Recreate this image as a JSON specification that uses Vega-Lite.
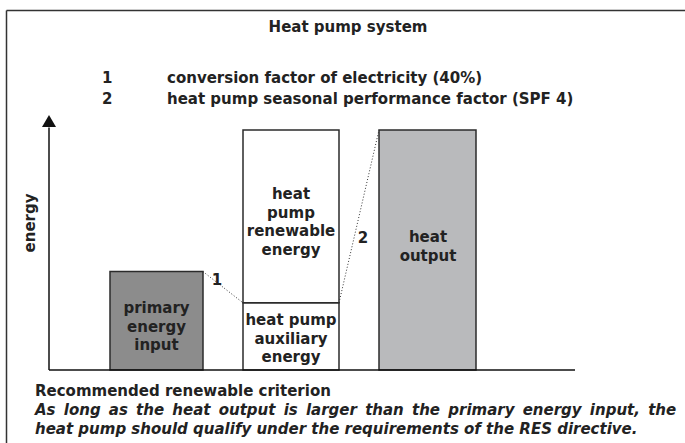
{
  "$schema": "https://vega.github.io/schema/vega-lite/v6.json",
  "width": 685,
  "height": 443,
  "autosize": {"type": "none"},
  "padding": 0,
  "background": "white",
  "config": {
    "view": {"stroke": null},
    "text": {"font": "DejaVu Sans", "fontWeight": "bold", "fontSize": 15, "color": "#222222"}
  },
  "datasets": {
    "bars": [
      {"item": "primary energy input", "part": "primary", "x": 6.1, "x2": 15.4, "y": 4.1, "y2": 0},
      {"item": "heat pump auxiliary energy", "part": "auxiliary", "x": 19.4, "x2": 29.0, "y": 2.8, "y2": 0},
      {"item": "heat pump renewable energy", "part": "renewable", "x": 19.4, "x2": 29.0, "y": 10.0, "y2": 2.8},
      {"item": "heat output", "part": "output", "x": 33.0, "x2": 42.7, "y": 10.0, "y2": 0}
    ],
    "links": [
      {"step": "1", "x": 15.4, "y": 4.1, "x2": 19.4, "y2": 2.8},
      {"step": "2", "x": 29.0, "y": 2.8, "x2": 33.0, "y2": 10.0}
    ],
    "axes": [
      {"axis": "x", "x": 0, "y": 0, "x2": 52.6, "y2": 0},
      {"axis": "y", "x": 0, "y": 0, "x2": 0, "y2": 10.1}
    ],
    "arrow": [{"x": 0, "y": 10.375}],
    "frame": [
      {"side": "top", "x": -4.25, "y": 14.979, "x2": 63.6, "y2": 14.979},
      {"side": "left", "x": -4.25, "y": 14.979, "x2": -4.25, "y2": -3.0417}
    ],
    "boxLabels": [
      {"x": 24.2, "y": 7.125, "label": "heat\npump\nrenewable\nenergy"},
      {"x": 24.2, "y": 1.875, "label": "heat pump\nauxiliary\nenergy"},
      {"x": 37.9, "y": 5.333, "label": "heat\noutput"},
      {"x": 10.75, "y": 2.375, "label": "primary\nenergy\ninput"}
    ],
    "stepLabels": [
      {"x": 16.8, "y": 3.54, "label": "1"},
      {"x": 31.4, "y": 5.29, "label": "2"}
    ],
    "notes": [
      {"x": 5.3, "y": 11.96, "label": "1"},
      {"x": 11.8, "y": 11.96, "label": "conversion factor of electricity (40%)"},
      {"x": 5.3, "y": 11.083, "label": "2"},
      {"x": 11.8, "y": 11.083, "label": "heat pump seasonal performance factor (SPF 4)"},
      {"x": -1.4, "y": -1.083, "label": "Recommended renewable criterion"}
    ],
    "italicNotes": [
      {"x": -1.4, "y": -1.875, "label": "As \u2009long \u2009as \u2009the \u2009heat \u2009output \u2009is \u2009larger \u2009than \u2009the \u2009primary \u2009energy \u2009input, \u2009the"},
      {"x": -1.4, "y": -2.667, "label": "heat pump should qualify under the requirements of the RES directive."}
    ],
    "titleText": [{"x": 29.9, "y": 14.083, "label": "Heat pump system"}],
    "yTitle": [{"x": -1.4, "y": 6.125, "label": "energy"}]
  },
  "encoding": {
    "x": {"field": "x", "type": "quantitative", "scale": {"domain": [-4.9, 63.6], "nice": false, "zero": false}, "axis": null},
    "y": {"field": "y", "type": "quantitative", "scale": {"domain": [-3.0417, 15.4167], "nice": false, "zero": false}, "axis": null}
  },
  "layer": [
    {
      "data": {"name": "frame"},
      "mark": {"type": "rule", "color": "#333333", "strokeWidth": 1.5, "clip": false},
      "encoding": {"x2": {"field": "x2"}, "y2": {"field": "y2"}}
    },
    {
      "data": {"name": "bars"},
      "mark": {"type": "rect", "stroke": "#2b2b2b", "strokeWidth": 1.5},
      "encoding": {
        "x2": {"field": "x2"},
        "y2": {"field": "y2"},
        "fill": {
          "field": "part",
          "type": "nominal",
          "scale": {"domain": ["primary", "auxiliary", "renewable", "output"], "range": ["#8c8c8c", "#ffffff", "#ffffff", "#b9babc"]},
          "legend": null
        }
      }
    },
    {
      "data": {"name": "links"},
      "mark": {"type": "rule", "color": "#333333", "strokeWidth": 1, "strokeDash": [1, 2]},
      "encoding": {"x2": {"field": "x2"}, "y2": {"field": "y2"}}
    },
    {
      "data": {"name": "axes"},
      "mark": {"type": "rule", "color": "#111111", "strokeWidth": 1.5},
      "encoding": {"x2": {"field": "x2"}, "y2": {"field": "y2"}}
    },
    {
      "data": {"name": "arrow"},
      "mark": {"type": "point", "shape": "triangle-up", "size": 196, "filled": true, "color": "#111111", "opacity": 1}
    },
    {
      "data": {"name": "boxLabels"},
      "mark": {"type": "text", "align": "center", "baseline": "alphabetic", "lineBreak": "\n", "lineHeight": 18.7},
      "encoding": {"text": {"field": "label"}}
    },
    {
      "data": {"name": "stepLabels"},
      "mark": {"type": "text", "align": "center", "baseline": "alphabetic"},
      "encoding": {"text": {"field": "label"}}
    },
    {
      "data": {"name": "notes"},
      "mark": {"type": "text", "align": "left", "baseline": "alphabetic"},
      "encoding": {"text": {"field": "label"}}
    },
    {
      "data": {"name": "italicNotes"},
      "mark": {"type": "text", "align": "left", "baseline": "alphabetic", "fontStyle": "italic"},
      "encoding": {"text": {"field": "label"}}
    },
    {
      "data": {"name": "titleText"},
      "mark": {"type": "text", "align": "center", "baseline": "alphabetic"},
      "encoding": {"text": {"field": "label"}}
    },
    {
      "data": {"name": "yTitle"},
      "mark": {"type": "text", "align": "center", "baseline": "alphabetic", "angle": 270},
      "encoding": {"text": {"field": "label"}}
    }
  ]
}
